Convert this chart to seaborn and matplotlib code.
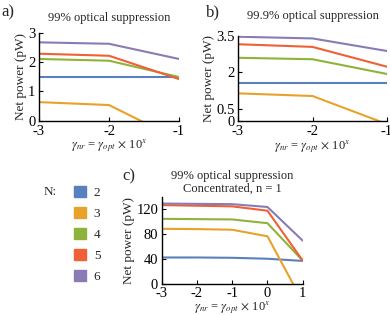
import numpy as np
import pandas as pd
import matplotlib.pyplot as plt
import seaborn as sns
from matplotlib.patches import Patch

# values
n_values = [2, 3, 4, 5, 6]
colors = ["#5a7fbd", "#e8a22a", "#8fb33a", "#ef6036", "#8b7bb5"]

x_ab = [-3, -2, -1]
panel_a = [
    [1.49, 1.49, 1.49],
    [0.63, 0.53, -0.66],
    [2.11, 2.05, 1.49],
    [2.29, 2.22, 1.42],
    [2.68, 2.63, 2.11],
]
panel_b = [
    [1.57, 1.57, 1.57],
    [1.13, 1.02, -0.14],
    [2.60, 2.54, 1.93],
    [3.16, 3.05, 2.23],
    [3.47, 3.40, 2.88],
]
x_c = [-3, -2, -1, 0, 1]
panel_c = [
    [43, 43, 42.5, 41, 37.5],
    [89, 88.5, 87.5, 77, -28],
    [105, 104.5, 104, 98, 38],
    [127, 126, 125, 118, 38],
    [129.5, 129, 128.5, 124, 70],
]


def to_long(x, rows):
    recs = []
    for n, ys in zip(n_values, rows):
        for xi, yi in zip(x, ys):
            recs.append({"x": xi, "power": yi, "N": n})
    return pd.DataFrame(recs)


sns.set_theme(style="ticks")
plt.rcParams["font.family"] = ["Liberation Serif", "DejaVu Serif"]
plt.rcParams["mathtext.fontset"] = "stix"
plt.rcParams["axes.unicode_minus"] = False

W, H = 390, 315
fig = plt.figure(figsize=(W / 100, H / 100), dpi=100)


def px_axes(left, top, right, bottom):
    return fig.add_axes([left / W, 1 - bottom / H, (right - left) / W, (bottom - top) / H])


palette = dict(zip(n_values, colors))
xlab = r"$\gamma_{nr}$ = $\gamma_{opt}$ $\times$ 10$^{x}$"

ax_a = px_axes(39, 33, 179, 120.5)
ax_b = px_axes(238, 36, 387, 120.7)
ax_c = px_axes(161.7, 197, 302.7, 284.3)

for ax, x, rows in [(ax_a, x_ab, panel_a), (ax_b, x_ab, panel_b), (ax_c, x_c, panel_c)]:
    sns.lineplot(data=to_long(x, rows), x="x", y="power", hue="N", palette=palette,
                 lw=1.5, legend=False, ax=ax)
    ax.set_xlabel(xlab, fontsize=9, labelpad=0)
    ax.set_ylabel("Net power (pW)", fontsize=9.5, labelpad=1)
    ax.tick_params(labelsize=10.5, direction="in", length=3, width=0.8, colors="black")
    ax.tick_params(axis="x", pad=3)
    ax.tick_params(axis="y", pad=2.5)
    for s in ["left", "bottom"]:
        ax.spines[s].set_color("black")
        ax.spines[s].set_linewidth(1)
    sns.despine(ax=ax)

ax_a.set_xlim(-3, -1)
ax_a.set_ylim(0, 3)
ax_a.set_xticks([-3, -2, -1])
ax_a.set_yticks([0, 1, 2, 3])
ax_a.set_title("99% optical suppression", fontsize=9, pad=9)

ax_b.set_xlim(-3, -1)
ax_b.set_ylim(0, 3.5)
ax_b.set_xticks([-3, -2, -1])
ax_b.set_yticks([0, 0.5, 2, 3.5])
ax_b.set_yticklabels(["0", "0.5", "2", "3.5"])
ax_b.set_title("99.9% optical suppression", fontsize=9, pad=12)

ax_c.set_xlim(-3, 1)
ax_c.set_ylim(0, 140)
ax_c.set_xticks([-3, -2, -1, 0, 1])
ax_c.set_yticks([0, 40, 80, 120])
ax_c.tick_params(axis="x", pad=2)
ax_c.set_xlabel(xlab, fontsize=9, labelpad=-0.5)
ax_c.set_title("99% optical suppression\nConcentrated, n = 1", fontsize=9, pad=4, linespacing=1.1)

fig.text(1 / W, 1 - 12 / H, "a)", fontsize=12, va="center", ha="left")
fig.text(206 / W, 1 - 12 / H, "b)", fontsize=12, va="center", ha="left")
fig.text(122 / W, 1 - 176 / H, "c)", fontsize=12, va="center", ha="left")

fig.text(44 / W, 1 - 192 / H, "N:", fontsize=9.5, va="center", ha="left")
handles = [Patch(facecolor=c, edgecolor=c) for c in colors]
fig.legend(handles, [str(n) for n in n_values], loc="upper left",
           bbox_to_anchor=(74 / W, 1 - 186 / H), frameon=False, fontsize=9.5,
           handlelength=0.9, handleheight=0.9, handletextpad=0.6, labelspacing=0.6,
           borderaxespad=0, borderpad=0)

fig.savefig("out.png", dpi=100)
